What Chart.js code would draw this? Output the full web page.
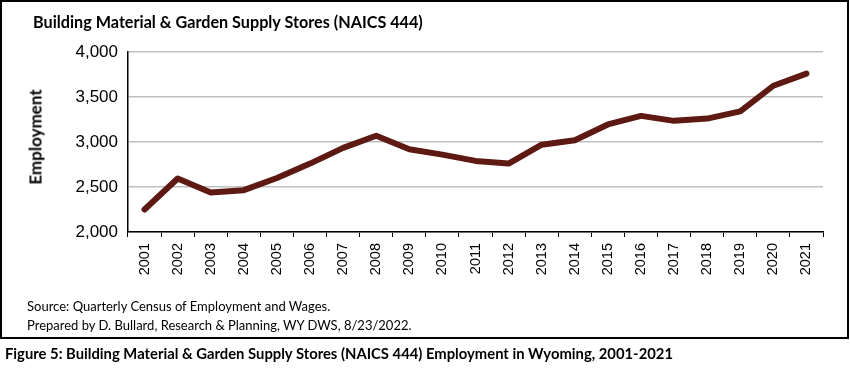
<!DOCTYPE html>
<html>
<head>
<meta charset="utf-8">
<script src="https://cdn.jsdelivr.net/npm/chart.js@4.4.1/dist/chart.umd.min.js"></script>
<style>
  body { margin: 0; background: #fff; }
  #wrap { position: relative; width: 850px; height: 370px; }
  #box { position: absolute; left: 0; top: 0; width: 849px; height: 339px; border: 2px solid #000; box-sizing: border-box; }
  canvas { position: absolute; left: 0; top: 0; }
  .txt { position: absolute; font-family: Lato, "Open Sans", sans-serif; color: #000; white-space: nowrap; }
  #title { left: 33px; top: 12px; font-size: 16.2px; font-weight: bold; }
  #ytitle { left: 35px; top: 137px; font-size: 17px; font-weight: bold; transform: translate(-50%, -50%) rotate(-90deg); }
  #src1 { left: 27px; top: 298px; font-size: 13px; }
  #src2 { left: 27px; top: 317px; font-size: 13px; }
  #caption { left: 5px; top: 344px; font-size: 14.8px; font-weight: bold; }
</style>
</head>
<body>
<div id="wrap">
  <div id="box"></div>
  <canvas id="chart" width="850" height="370"></canvas>
  <div class="txt" id="title">Building Material &amp; Garden Supply Stores (NAICS 444)</div>
  <div class="txt" id="ytitle">Employment</div>
  <div class="txt" id="src1">Source: Quarterly Census of Employment and Wages.</div>
  <div class="txt" id="src2">Prepared by D. Bullard, Research &amp; Planning, WY DWS, 8/23/2022.</div>
  <div class="txt" id="caption">Figure 5: Building Material &amp; Garden Supply Stores (NAICS 444) Employment in Wyoming, 2001-2021</div>
</div>
<script>
const years = ['2001','2002','2003','2004','2005','2006','2007','2008','2009','2010','2011',
               '2012','2013','2014','2015','2016','2017','2018','2019','2020','2021'];
const employment = [2250, 2595, 2440, 2465, 2600, 2760, 2935, 3070, 2920, 2860, 2790,
                    2760, 2970, 3020, 3195, 3290, 3235, 3260, 3340, 3625, 3760];
const yMin = 2000;
const yMax = 4000;
const yStep = 500;

new Chart(document.getElementById('chart'), {
  type: 'line',
  data: {
    labels: years,
    datasets: [{
      data: employment,
      borderColor: '#5e1a12',
      borderWidth: 6,
      pointRadius: 0,
      tension: 0,
      borderCapStyle: 'round',
      borderJoinStyle: 'round'
    }]
  },
  options: {
    responsive: false,
    animation: false,
    layout: { padding: { left: 27, top: 52, right: 27, bottom: 78 } },
    plugins: { legend: { display: false }, tooltip: { enabled: false } },
    scales: {
      x: {
        offset: true,
        afterFit: (s) => { s.height = 60; },
        grid: { offset: true, drawOnChartArea: false, drawTicks: true, tickLength: 5, color: '#000' },
        border: { color: '#000', width: 1.5 },
        ticks: {
          autoSkip: false, minRotation: 90, maxRotation: 90, padding: 6,
          color: '#000', font: { family: 'Liberation Sans, Arial', size: 14.5 }
        }
      },
      y: {
        min: yMin, max: yMax,
        afterFit: (s) => { s.width = 101; },
        grid: { color: '#bfbfbf', lineWidth: 1.5, drawTicks: false },
        border: { color: '#000', width: 1.5 },
        ticks: {
          stepSize: yStep, padding: 10, color: '#000',
          font: { family: 'Liberation Sans, Arial', size: 17 },
          callback: (v) => v.toLocaleString('en-US')
        }
      }
    }
  }
});
</script>
</body>
</html>
